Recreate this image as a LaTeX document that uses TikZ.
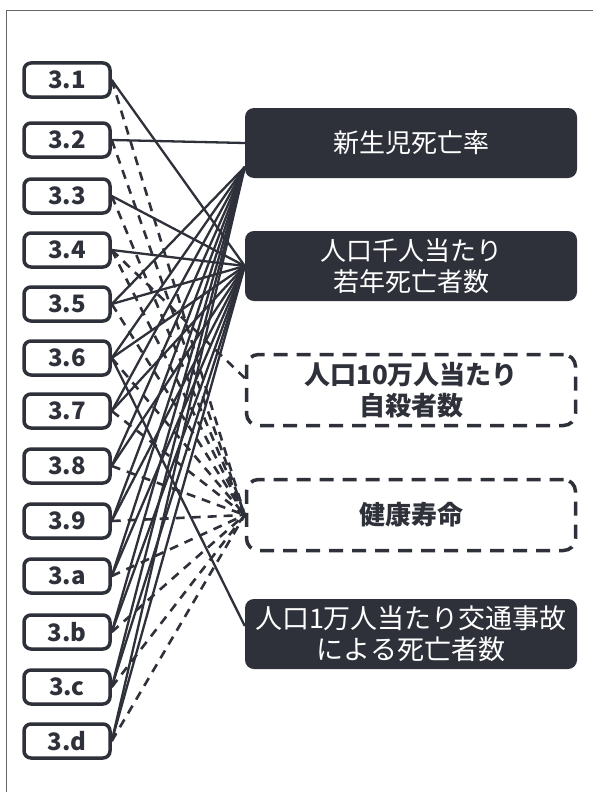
\documentclass[tikz,border=0pt]{standalone}
\usepackage{fontspec}
\setmainfont{Noto Sans CJK JP}
\definecolor{ink}{HTML}{2E3139}

\begin{document}
\begin{tikzpicture}[x=1pt,y=-1pt,
  target/.style={draw=ink,fill=white,line width=3.5pt,rounded corners=7pt,minimum width=86pt,minimum height=34pt,
    font=\fontsize{24}{26}\selectfont\bfseries,text=ink},
  solidbox/.style={fill=ink,text=white,rounded corners=9pt,minimum width=332pt,minimum height=70pt,
    align=center,font=\fontsize{26}{31}\selectfont},
  dashbox/.style={draw=ink,line width=3.5pt,dash pattern=on 14pt off 9pt,rounded corners=12pt,
    minimum width=329pt,minimum height=71pt,align=center,text=ink,font=\fontsize{26}{31}\selectfont\bfseries},
  link/.style={draw=ink,line width=2.3pt},
  dlink/.style={draw=ink,line width=2.6pt,dash pattern=on 9pt off 7pt}]
  \useasboundingbox (0,0) rectangle (593,792);
  \draw[black!60,line width=1pt] (6,792) -- (6,11) -- (593,11);
  \foreach \n/\y in {1/80,2/140,3/196,4/250,5/304,6/358,7/411,8/466,9/521,a/576,b/632,c/687,d/741} {
    \node[target] (t\n) at (67,\y) {3.\n};
  };
  \node[solidbox] (neo) at (411,143) {新生児死亡率};
  \node[solidbox] (young) at (411,266) {人口千人当たり\\若年死亡者数};
  \node[dashbox] (suicide) at (411,390) {人口10万人当たり\\自殺者数};
  \node[dashbox] (life) at (411,515) {健康寿命};
  \node[solidbox,font=\fontsize{27}{31}\selectfont] (traffic) at (411,634) {人口1万人当たり交通事故\\による死亡者数};
  \draw[link] (t2.east) -- (neo.west);
  \foreach \s in {5,6,7,8,9,a,b,c,d}
    \draw[link] (t\s.east) -- ([yshift=-24pt]neo.west);
  \foreach \s in {1,3,4,5,6,7,8,9,a,b,c,d}
    \draw[link] (t\s.east) -- (young.west);
  \draw[dlink] (t4.east) -- ([yshift=12pt]suicide.west);
  \foreach \s in {1,2,3,4,5,6,7,8,9,a,b,c,d}
    \draw[dlink] (t\s.east) -- (life.west);
  \draw[link] (t6.east) -- ([yshift=8pt]traffic.west);
\end{tikzpicture}
\end{document}
